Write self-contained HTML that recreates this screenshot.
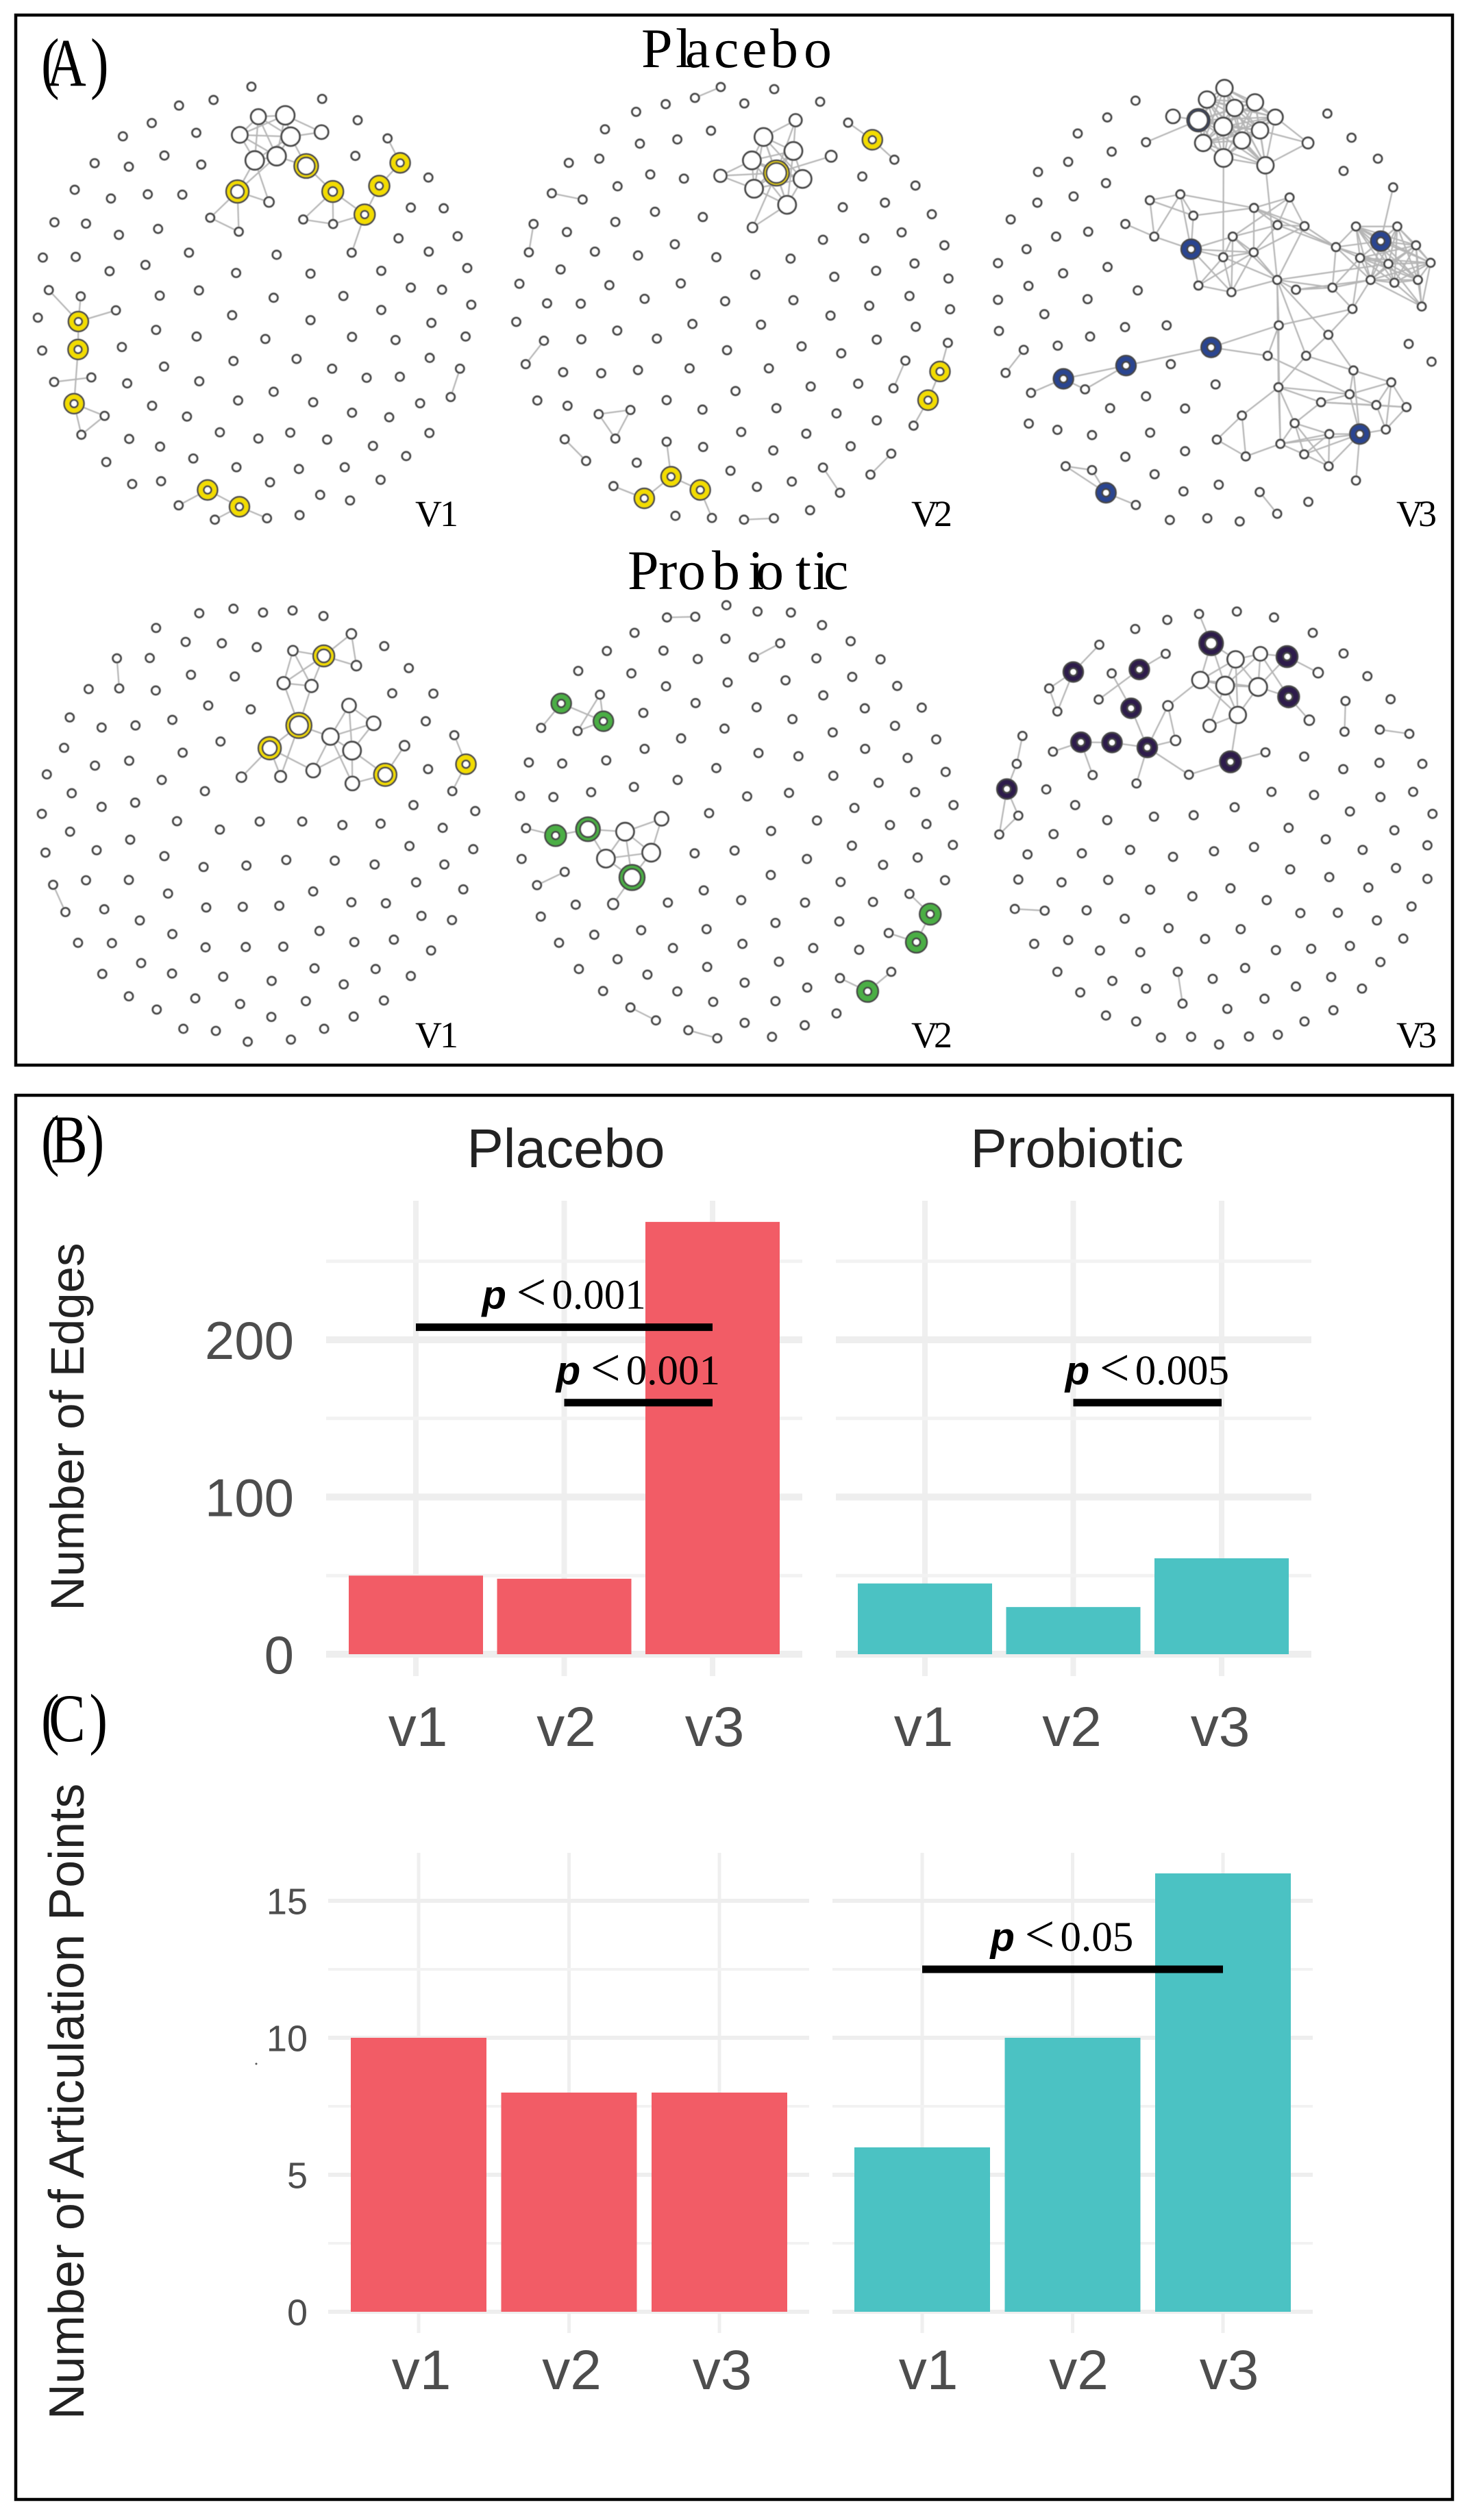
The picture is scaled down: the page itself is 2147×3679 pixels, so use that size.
<!DOCTYPE html>
<html lang="en">
<head>
<meta charset="utf-8">
<title>Network topology by visit, placebo and probiotic</title>
<style>
html,body{margin:0;padding:0;background:#fff;width:2147px;height:3679px;overflow:hidden}
svg{display:block}
.serif{font-family:"Liberation Serif",serif;fill:#000}
.sans{font-family:"Liberation Sans",sans-serif}
</style>
</head>
<body>
<svg id="figure" xmlns="http://www.w3.org/2000/svg" width="2147" height="3679" viewBox="0 0 2147 3679">
<defs><filter id="soft" x="-2%" y="-2%" width="104%" height="104%"><feGaussianBlur stdDeviation="0.5"/></filter></defs>
<rect width="2147" height="3679" fill="#fff"/>
<rect x="23" y="22" width="2097" height="1533" fill="none" stroke="#000" stroke-width="4.5"/>
<rect x="23" y="1599" width="2097" height="2050" fill="none" stroke="#000" stroke-width="4.5"/>
<g id="networks" filter="url(#soft)"></g>
<g id="bars"></g>
<g transform="translate(60,125) scale(.8,1)"><text class="serif" font-size="100" x="0 10 90">(A)</text></g>
<g transform="translate(60,1697) scale(.8,1)"><text class="serif" font-size="100" x="0 18 82">(B)</text></g>
<g transform="translate(60,2542) scale(.8,1)"><text class="serif" font-size="100" x="0 14 88">(C)</text></g>
<text class="serif" font-size="82" y="98" x="936 986 1000 1042 1083 1124 1173">Placebo</text>
<text class="serif" font-size="82" y="860" x="916 961 989 1039 1092 1103 1161 1186 1202">Probiotic</text>
<text class="serif" font-size="54" y="768" x="606 642">V1</text>
<text class="serif" font-size="54" y="768" x="1330 1363">V2</text>
<text class="serif" font-size="54" y="768" x="2038 2070">V3</text>
<text class="serif" font-size="54" y="1529" x="606 642">V1</text>
<text class="serif" font-size="54" y="1529" x="1330 1363">V2</text>
<text class="serif" font-size="54" y="1529" x="2038 2070">V3</text>
<text class="sans" font-size="80" fill="#222" text-anchor="middle" x="826" y="1704">Placebo</text>
<text class="sans" font-size="80" fill="#222" text-anchor="middle" x="1572" y="1704">Probiotic</text>
<text class="sans" font-size="69" fill="#222" text-anchor="middle" transform="translate(122,2083) rotate(-90)">Number of Edges</text>
<text class="sans" font-size="72" fill="#222" text-anchor="middle" transform="translate(122,3068) rotate(-90)">Number of Articulation Points</text>
<circle cx="374" cy="3013" r="1.5" fill="#555"/>
</svg>
<script>
// ---------- Bar chart data ----------
const visits = ['v1', 'v2', 'v3'];
const edgesPlacebo = [50, 48, 275];
const edgesProbiotic = [45, 30, 61];
const articulationPlacebo = [10, 8, 8];
const articulationProbiotic = [6, 10, 16];
const edgeMajorTicks = [0, 100, 200];
const edgeMinorTicks = [50, 150, 250];
const articulationMajorTicks = [0, 5, 10, 15];
const articulationMinorTicks = [2.5, 7.5, 12.5];
const edgeBracketLevels = [208, 160, 160];
const edgeBracketLabels = ['0.001', '0.001', '0.005'];
const articulationBracketLevels = [12.5];
const articulationBracketLabels = ['0.05'];

// ---------- Network layouts: node = [layoutX, layoutY, radius, innerRadius] in layout units ----------
// Placebo V1
const a1Linked = [[778,334,12],[859,330,14.5],[722,386,12.5],[875,391,14.5],[968,378,11],[767,459,14.5],[833,447,14.5],[922,475,18,13],[715,548,17,10],[1002,548,16,7],[1205,466,15,6],[1142,532,15.5,6],[1098,614,15.5,6],[236,920,15,6],[235,1000,15,6],[223,1155,15,6],[625,1402,15,6],[721,1450,15,6],[1167,396],[810,578,8],[633,623],[719,663],[913,628],[1003,641],[1059,723],[147,830],[243,848],[349,888],[275,1080],[163,1093],[315,1190],[245,1244],[538,1446],[647,1487],[804,1483],[1385,1055],[1357,1136]];
const a1Edges = [[0,1],[0,2],[0,3],[0,5],[0,6],[1,2],[1,3],[1,4],[1,6],[2,3],[2,5],[2,6],[3,4],[3,5],[3,6],[5,6],[3,7],[6,7],[5,8],[5,19],[6,8],[7,9],[8,19],[8,20],[8,21],[20,21],[9,22],[9,23],[9,12],[22,23],[23,12],[12,24],[12,11],[11,10],[10,18],[13,25],[13,26],[13,27],[13,14],[14,15],[28,29],[15,30],[15,31],[30,31],[16,32],[16,17],[17,33],[17,34],[35,36]];
const a1Cliques = [];
const a1Isolated = [[757,248],[643,286],[539,302],[970,283],[457,352],[591,380],[370,390],[1077,344],[285,467],[388,477],[495,445],[606,471],[1070,446],[1290,508],[225,543],[334,568],[445,556],[549,557],[1237,594],[1336,596],[164,636],[259,640],[358,672],[476,655],[1200,682],[1378,676],[129,737],[228,735],[330,776],[438,758],[569,723],[833,729],[711,781],[935,783],[1148,775],[1291,720],[1407,767],[481,846],[599,831],[824,852],[1034,847],[1237,823],[1331,829],[1419,872],[114,909],[699,902],[935,916],[1148,887],[1299,924],[470,944],[592,963],[799,970],[1060,964],[1191,973],[1402,963],[127,1003],[367,993],[703,1033],[893,1027],[1000,1055],[1104,1081],[1204,1078],[1294,1024],[494,1049],[600,1091],[383,1097],[824,1121],[717,1146],[943,1151],[1060,1181],[1172,1194],[1265,1154],[458,1161],[563,1192],[662,1237],[778,1255],[874,1238],[985,1258],[1123,1276],[1293,1239],[389,1256],[482,1278],[320,1322],[582,1312],[712,1337],[900,1342],[1038,1337],[1223,1305],[398,1385],[485,1377],[813,1380],[964,1416],[1146,1373],[1054,1432],[902,1474]];
// Placebo V2
const a2Linked = [[961,344,10],[859,392,14],[954,432,14],[822,459,14],[1074,447,9],[722,503,10],[829,540,14],[983,512,14],[934,586,14],[824,651,8],[900,495,19,15],[1205,400,15,6],[1128,351],[1275,457],[1420,1063,15,6],[1382,1145,15,6],[1445,981],[1336,1218],[565,1364,15,6],[480,1426,15,6],[658,1402,15,6],[551,1264],[382,1391],[695,1482],[723,249],[641,280],[186,553],[284,571],[128,641],[113,722],[161,975],[103,1042],[335,1185],[436,1173],[388,1255],[227,1257],[295,1319],[1310,1032],[1272,1111],[1265,1298],[1199,1358],[1048,1338],[1102,1410],[797,1487],[892,1483]];
const a2Edges = [[10,0],[10,4],[10,5],[10,9],[3,5],[6,5],[0,2],[0,1],[8,9],[12,11],[11,13],[16,14],[14,15],[15,17],[21,18],[18,19],[18,20],[22,19],[20,23],[24,25],[26,27],[28,29],[30,31],[32,33],[33,34],[32,34],[35,36],[37,38],[39,40],[41,42],[43,44]];
const a2Cliques = [[1,2,3,6,7,8,10]];
const a2Isolated = [[893,255],[798,296],[1039,291],[548,298],[454,320],[355,370],[692,374],[585,399],[466,411],[337,454],[240,466],[499,499],[606,511],[395,533],[1173,505],[1342,531],[1111,593],[1245,580],[1394,613],[514,606],[666,621],[388,635],[234,664],[1298,665],[1179,682],[1048,686],[1434,702],[323,720],[460,731],[577,699],[709,736],[945,740],[1339,754],[1217,775],[1084,792],[1447,797],[833,786],[214,771],[83,812],[369,816],[596,811],[171,868],[278,869],[481,855],[737,862],[954,859],[1323,847],[1195,875],[1452,885],[1072,903],[73,921],[633,927],[851,929],[1343,935],[394,946],[280,971],[520,969],[1219,972],[980,991],[743,1002],[1106,1011],[222,1065],[343,1068],[460,1059],[624,1054],[876,1054],[1009,1106],[1160,1098],[770,1119],[140,1146],[236,1161],[551,1145],[665,1172],[900,1168],[1091,1183],[1219,1203],[788,1236],[995,1241],[667,1279],[890,1289],[1136,1277],[456,1324],[754,1347],[838,1393],[949,1378],[579,1476],[1007,1460]];
// Placebo V3
const a3Linked = [[792,252,13],[737,285,13],[888,293,13],[824,309,13],[630,333,11],[710,344,17,14],[788,362,14],[952,335,12],[904,373,13],[725,409,13],[847,402,13],[789,452,14],[921,473,13],[1055,409,9],[545,407],[557,573],[653,556],[694,617],[571,677],[480,641],[687,713,15,6],[788,736],[818,677],[884,722],[885,595],[997,565],[959,644],[1044,647],[710,817],[814,836],[958,801],[1017,829],[1143,707],[1206,648],[1284,690,15,6],[1336,648],[1395,702],[1219,738],[1308,755],[1441,752],[1252,801],[1327,809],[1401,801],[1413,877],[1323,536],[1132,823],[1195,884],[963,931],[1119,958],[750,994,15,6],[482,1046,15,6],[285,1084,15,6],[353,1114],[183,1124],[928,1018],[1049,1018],[1198,1060],[1317,1094],[962,1108],[1186,1128],[1096,1151],[1270,1159],[1365,1165],[847,1189],[1013,1211],[1218,1242,15,6],[1300,1229],[1122,1242],[768,1258],[968,1270],[859,1306],[1043,1300],[1120,1334],[1206,1375],[419,1410,15,6],[292,1334],[375,1345],[513,1445],[160,1001],[103,1067],[903,1408],[958,1470]];
const a3Edges = [[4,5],[14,5],[7,13],[8,13],[12,13],[11,21],[12,30],[15,16],[15,17],[15,18],[16,17],[16,18],[18,20],[19,18],[17,20],[16,20],[16,24],[17,24],[20,21],[20,22],[20,23],[20,28],[20,29],[21,22],[21,23],[21,28],[21,29],[22,23],[22,25],[22,26],[22,29],[22,30],[23,24],[23,26],[23,27],[23,28],[23,30],[24,25],[24,26],[24,27],[25,26],[25,27],[26,27],[23,29],[28,29],[29,30],[30,31],[21,30],[27,32],[24,32],[26,32],[30,27],[30,45],[30,38],[31,40],[31,45],[32,33],[32,34],[32,37],[32,38],[32,40],[32,45],[44,34],[36,43],[40,43],[41,43],[42,43],[39,43],[38,43],[46,40],[46,37],[46,45],[45,37],[45,40],[46,47],[48,46],[47,30],[47,49],[47,54],[47,58],[30,69],[30,58],[48,55],[48,56],[48,30],[55,58],[55,56],[55,30],[54,59],[49,54],[49,50],[50,51],[50,52],[51,52],[51,53],[56,57],[56,59],[56,65],[57,59],[57,61],[57,62],[57,66],[59,60],[59,61],[59,65],[60,61],[60,62],[60,64],[60,58],[58,59],[58,63],[58,64],[58,69],[63,68],[63,70],[68,70],[70,69],[69,64],[69,67],[69,71],[69,65],[64,67],[64,71],[64,72],[71,72],[71,67],[71,65],[67,65],[67,72],[72,65],[65,73],[65,66],[66,61],[66,62],[61,62],[74,75],[74,76],[75,76],[74,77],[78,79],[80,81]];
const a3Cliques = [[0,1,2,3,5,6,7,8,9,10,11,12],[33,34,35,36,37,38,39,40,41,42]];
const a3Isolated = [[512,288],[423,336],[330,382],[1116,325],[1192,394],[1275,454],[1167,489],[437,434],[300,463],[205,492],[419,524],[317,562],[203,580],[119,628],[363,663],[262,677],[169,713],[79,753],[424,764],[284,782],[175,818],[79,858],[519,831],[361,856],[225,899],[82,947],[479,936],[610,931],[369,963],[267,989],[623,1042],[1372,984],[1444,1035],[764,1100],[545,1134],[432,1168],[668,1169],[176,1212],[266,1230],[375,1245],[558,1238],[668,1291],[480,1307],[572,1357],[663,1406],[774,1387],[1056,1436],[620,1488],[738,1483],[840,1492]];
// Probiotic V1
const b1Linked = [[975,348,16,10],[882,333,8],[1058,285,8],[1073,376,8],[854,426,10],[938,434,10],[900,547,19,14],[812,612,17,11],[1051,490,11],[1125,541,11],[995,579,13],[1060,619,14],[943,676,11],[1061,713,11],[1160,688,17,11],[1218,605,8],[845,693,9],[727,695,8],[1403,658,15,6],[1368,575],[1362,735],[352,355],[359,441],[160,1003],[197,1081]];
const b1Edges = [[0,1],[0,2],[0,3],[2,3],[0,4],[0,5],[1,4],[1,5],[4,5],[4,6],[5,6],[6,7],[6,10],[6,16],[7,16],[7,17],[7,12],[10,8],[10,9],[10,11],[10,12],[8,9],[8,11],[9,11],[11,12],[11,13],[10,13],[11,14],[13,14],[14,15],[18,19],[18,20],[21,22],[23,24]];
const b1Cliques = [];
const b1Isolated = [[600,226],[703,213],[792,224],[881,218],[974,234],[470,268],[559,308],[668,312],[773,323],[1157,320],[451,354],[1231,383],[575,402],[707,407],[267,443],[469,447],[1181,455],[1305,456],[627,490],[755,501],[210,524],[306,553],[408,547],[519,531],[1282,535],[664,593],[193,611],[550,625],[389,648],[286,662],[1289,672],[141,687],[487,703],[617,735],[216,741],[306,780],[407,768],[1245,775],[1431,792],[126,800],[533,821],[662,845],[782,822],[910,822],[1031,832],[1146,828],[1333,840],[211,851],[392,874],[291,904],[137,911],[495,921],[613,952],[742,948],[862,932],[1008,934],[1128,945],[1233,892],[1425,901],[1338,945],[259,990],[388,989],[506,1028],[943,1022],[1253,996],[1395,1016],[314,1073],[621,1068],[731,1066],[841,1063],[1058,1053],[1162,1056],[1269,1092],[1361,1104],[421,1105],[519,1144],[962,1135],[235,1169],[337,1170],[619,1182],[740,1181],[853,1180],[1067,1167],[1186,1160],[1298,1191],[425,1227],[308,1258],[518,1257],[672,1266],[818,1278],[947,1242],[1131,1244],[1237,1264],[1035,1288],[388,1322],[588,1328],[723,1344],[921,1336],[1156,1334],[472,1360],[817,1381],[1065,1380],[552,1415],[650,1421],[746,1452],[876,1446],[976,1415]];
// Probiotic V2
const b2Linked = [[216,484,15,6],[350,535,15,6],[152,554],[339,459],[268,563],[198,862,16,6],[301,844,18,12],[104,841],[419,851,14],[535,814,11],[502,911,14],[358,928,14],[441,982,19,13],[381,1058,8.5],[227,966],[139,1004],[552,238],[642,236],[912,312],[828,352],[1389,1087,16,6],[1345,1167,16,6],[1323,1029],[1257,1141],[1190,1308,16,6],[1102,1270],[1265,1252],[436,1354],[517,1391],[620,1419],[712,1442]];
const b2Edges = [[0,2],[0,1],[1,3],[3,4],[1,4],[5,7],[5,6],[6,8],[6,11],[8,9],[8,10],[8,11],[8,12],[9,10],[10,11],[10,12],[11,12],[12,13],[14,15],[16,17],[18,19],[20,21],[20,22],[21,23],[24,25],[24,26],[27,28],[29,30]];
const b2Cliques = [];
const b2Isolated = [[741,203],[840,221],[946,224],[449,282],[1045,260],[738,299],[1136,306],[361,334],[541,333],[650,357],[1027,355],[1231,358],[270,391],[439,398],[549,435],[745,424],[929,418],[1141,408],[1284,434],[643,483],[837,495],[1049,461],[1181,498],[1362,496],[477,511],[951,529],[735,556],[597,584],[1079,567],[1277,548],[1408,587],[481,614],[843,626],[970,635],[1182,614],[1317,640],[113,653],[219,656],[359,647],[709,669],[586,703],[1081,691],[1225,711],[1438,680],[85,749],[191,752],[311,738],[447,723],[807,750],[940,740],[1341,738],[1463,775],[686,798],[1148,783],[1029,819],[1261,832],[1377,829],[883,849],[90,929],[640,913],[767,905],[997,929],[1140,891],[1349,925],[1461,889],[1239,946],[882,975],[1104,995],[1436,990],[669,1019],[262,1060],[555,1054],[788,1047],[991,1054],[1207,1052],[151,1094],[470,1133],[678,1130],[897,1112],[1100,1108],[321,1146],[209,1169],[571,1184],[792,1172],[1017,1184],[1163,1189],[395,1216],[908,1223],[272,1244],[680,1238],[490,1260],[799,1283],[998,1297],[349,1307],[585,1308],[699,1338],[897,1336],[1091,1371],[799,1398],[990,1405],[886,1438]];
// Probiotic V3
const b3Linked = [[750,312,18,9],[712,228],[827,358,13],[905,342,11],[989,350,16,6],[1087,396,8],[716,417,13],[794,433,14],[898,437,14],[994,465,16,6],[1059,532,8],[834,517,13],[745,548,10],[614,491,8],[638,590,8],[549,610,15,6],[438,596,15,6],[340,595,15,6],[252,622],[377,689],[515,713],[680,688],[811,651,16,6],[921,624],[524,387,15,6],[607,342],[396,473],[437,398],[498,498,15,6],[316,394,15,6],[398,316],[240,441],[266,507],[156,577],[138,657],[107,729,15,6],[143,805],[83,859],[1173,477],[1170,565],[1281,559],[1374,571],[132,1072],[226,1077],[645,1252],[660,1343]];
const b3Edges = [[0,1],[0,2],[0,6],[0,7],[2,3],[2,6],[2,7],[2,8],[2,11],[3,4],[3,8],[3,9],[3,7],[4,5],[4,8],[6,7],[6,8],[6,11],[7,8],[7,11],[7,12],[8,9],[8,11],[9,10],[11,12],[11,22],[6,13],[13,14],[13,15],[14,15],[15,16],[16,17],[17,18],[17,19],[15,20],[15,21],[21,22],[22,23],[15,28],[28,27],[24,25],[24,26],[29,30],[29,31],[29,32],[31,32],[33,34],[34,35],[35,36],[35,37],[36,37],[38,39],[40,41],[42,43],[44,45]];
const b3Cliques = [];
const b3Isolated = [[831,221],[948,238],[612,245],[511,271],[1070,282],[1167,341],[1242,406],[1315,472],[1043,636],[1166,672],[1280,654],[1415,657],[231,730],[940,737],[1074,746],[1283,752],[1386,737],[322,775],[824,781],[695,804],[570,808],[423,818],[1187,793],[1447,800],[254,858],[994,840],[1327,847],[1111,873],[172,916],[343,913],[495,903],[630,923],[759,907],[885,895],[1227,903],[1431,890],[999,959],[1332,955],[143,988],[279,996],[426,989],[558,1017],[1122,981],[1245,1011],[1431,986],[691,1036],[811,1013],[925,1047],[358,1076],[478,1100],[1031,1084],[1149,1083],[1272,1105],[1381,1065],[616,1127],[843,1130],[731,1158],[193,1172],[300,1161],[400,1191],[527,1196],[954,1190],[1065,1186],[1187,1178],[1355,1157],[857,1241],[266,1252],[439,1278],[755,1272],[1128,1267],[1283,1224],[338,1311],[545,1300],[1017,1294],[1225,1300],[918,1329],[801,1358],[1135,1362],[419,1377],[514,1394],[1044,1394],[592,1440],[687,1438],[775,1460],[869,1437],[960,1432]];

// ---------- Drawing ----------
const NS = 'http://www.w3.org/2000/svg';
function make(tag, attrs, parent) {
  const e = document.createElementNS(NS, tag);
  for (const k in attrs) e.setAttribute(k, attrs[k]);
  parent.appendChild(e);
  return e;
}

function drawNode(parent, n, color) {
  const x = n.px, y = n.py, R = n.R, rIn = n.rIn;
  if (rIn) {
    const ring = make('circle', {cx: x, cy: y, r: R - 0.5, fill: color, stroke: '#444', 'stroke-width': 2.4}, parent);
    
    
    const hole = make('circle', {cx: x, cy: y, r: rIn - 0.5, fill: '#fff', stroke: '#444', 'stroke-width': 2.6}, parent);
    
    
  } else {
    const dot = make('circle', {cx: x, cy: y, r: R - 1, fill: '#fff', stroke: '#444', 'stroke-width': 2.8}, parent);
    
    
  }
}

function drawNetwork(name, linked, edges, cliques, isolated, frame, color) {
  const sx = v => frame.x0 + v * frame.kx;
  const sy = v => frame.y0 + v * frame.ky;
  const host = document.getElementById('networks');
  const g = make('g', {}, host);
  
  
  const toNode = a => ({px: sx(a[0]), py: sy(a[1]), R: a[2] || 7, rIn: a[3] || 0});
  const nodes = linked.map(toNode);
  const pairs = edges.slice();
  cliques.forEach(c => { for (let i = 0; i < c.length; i++) for (let j = i + 1; j < c.length; j++) pairs.push([c[i], c[j]]); });
  pairs.forEach(p => {
    const a = nodes[p[0]], b = nodes[p[1]];
    const line = make('line', {x1: a.px, y1: a.py, x2: b.px, y2: b.py, stroke: '#b5b5b5', 'stroke-width': 2.2}, g);
    
    
  });
  isolated.map(toNode).forEach(n => drawNode(g, n, color));
  nodes.forEach(n => drawNode(g, n, color));
}

const YELLOW = '#f2dc05', BLUE = '#2b4590', GREEN = '#4cae44', PURPLE = '#2d1a4c';
drawNetwork('placebo-v1-network', a1Linked, a1Edges, a1Cliques, a1Isolated, {x0: 0, y0: 0, kx: 1 / 2.063, ky: 1 / 1.96}, YELLOW);
drawNetwork('placebo-v2-network', a2Linked, a2Edges, a2Cliques, a2Isolated, {x0: 720, y0: 0, kx: 1 / 2.178, ky: 1 / 1.96}, YELLOW);
drawNetwork('placebo-v3-network', a3Linked, a3Edges, a3Cliques, a3Isolated, {x0: 1420, y0: 0, kx: 1 / 2.157, ky: 1 / 1.96}, BLUE);
drawNetwork('probiotic-v1-network', b1Linked, b1Edges, b1Cliques, b1Isolated, {x0: 0, y0: 780, kx: 1 / 2.063, ky: 1 / 1.96}, YELLOW);
drawNetwork('probiotic-v2-network', b2Linked, b2Edges, b2Cliques, b2Isolated, {x0: 720, y0: 780, kx: 1 / 2.178, ky: 1 / 1.96}, GREEN);
drawNetwork('probiotic-v3-network', b3Linked, b3Edges, b3Cliques, b3Isolated, {x0: 1420, y0: 780, kx: 1 / 2.157, ky: 1 / 1.96}, PURPLE);

function drawFacet(opts) {
  const host = document.getElementById('bars');
  const g = make('g', {}, host);
  
  
  const y = v => opts.y0 - v * opts.yUnit;
  const x = i => opts.firstX + i * opts.stepX;
  // vertical grid
  visits.forEach((label, i) => {
    const v = make('line', {x1: x(i), x2: x(i), y1: opts.gridTop, y2: opts.gridBottom, stroke: '#efefef', 'stroke-width': opts.vWidth}, g);
    
    
  });
  opts.minor.forEach(t => {
    const l = make('line', {x1: opts.left, x2: opts.right, y1: y(t), y2: y(t), stroke: '#f2f2f2', 'stroke-width': opts.minorWidth}, g);
    
    
  });
  opts.major.forEach(t => {
    const l = make('line', {x1: opts.left, x2: opts.right, y1: y(t), y2: y(t), stroke: '#eeeeee', 'stroke-width': opts.majorWidth}, g);
    
    
    if (opts.showTicks) {
      const tx = make('text', {x: opts.tickX, y: y(t) + opts.tickSize * 0.36, 'text-anchor': 'end', 'font-size': opts.tickSize, fill: '#4d4d4d', class: 'sans'}, g);
      
      
      tx.textContent = String(t);
    }
  });
  // bars
  opts.values.forEach((val, i) => {
    const b = make('rect', {x: x(i) - opts.barWidth / 2, y: y(val), width: opts.barWidth, height: y(0) - y(val), fill: opts.color}, g);
    
    
  });
  // x labels
  visits.forEach((label, i) => {
    const t = make('text', {x: x(i) + opts.labelDx, y: opts.labelY, 'text-anchor': 'middle', 'font-size': 82, fill: '#4d4d4d', class: 'sans'}, g);
    
    
    t.textContent = label;
  });
  return {g, x, y};
}

function drawBracket(facet, fromIdx, toIdx, level, label) {
  const x1 = facet.x(fromIdx), x2 = facet.x(toIdx), yy = facet.y(level), mid = (x1 + x2) / 2;
  const line = make('line', {x1: x1, x2: x2, y1: yy, y2: yy, stroke: '#000', 'stroke-width': 11}, facet.g);
  
  
  const base = yy - 27;
  const p = make('text', {x: mid - 120, y: base, 'font-size': 58, 'font-weight': 'bold', 'font-style': 'italic', fill: '#000', class: 'sans'}, facet.g);
  
  
  p.textContent = 'p';
  const lt = make('text', {x: mid - 70, y: base + 2, 'font-size': 78, class: 'serif'}, facet.g);
  
  
  lt.textContent = '<';
  const val = make('text', {x: mid - 18, y: base, 'font-size': 61, class: 'serif'}, facet.g);
  
  
  val.textContent = label;
}

const edgeShared = {y0: 2415, yUnit: 2.295, gridTop: 1753, gridBottom: 2447, vWidth: 8, minorWidth: 5, majorWidth: 10, labelY: 2549, major: edgeMajorTicks, minor: edgeMinorTicks, tickSize: 78, barWidth: 196, stepX: 216.5};
const edgeLeft = drawFacet(Object.assign({}, edgeShared, {name: 'edges-placebo-facet', firstX: 607, left: 476, right: 1171, values: edgesPlacebo, color: '#f25c66', showTicks: true, tickX: 429, labelDx: 3}));
const edgeRight = drawFacet(Object.assign({}, edgeShared, {name: 'edges-probiotic-facet', firstX: 1350, left: 1220, right: 1914, values: edgesProbiotic, color: '#4bc2c3', showTicks: false, labelDx: -2}));
drawBracket(edgeLeft, 0, 2, edgeBracketLevels[0], edgeBracketLabels[0]);
drawBracket(edgeLeft, 1, 2, edgeBracketLevels[1], edgeBracketLabels[1]);
drawBracket(edgeRight, 1, 2, edgeBracketLevels[2], edgeBracketLabels[2]);

const artShared = {y0: 3375, yUnit: 40, gridTop: 2705, gridBottom: 3406, vWidth: 5, minorWidth: 4, majorWidth: 6, labelY: 3488, major: articulationMajorTicks, minor: articulationMinorTicks, tickSize: 54, barWidth: 198, stepX: 219.5};
const artLeft = drawFacet(Object.assign({}, artShared, {name: 'articulation-placebo-facet', firstX: 611, left: 479, right: 1181, values: articulationPlacebo, color: '#f25c66', showTicks: true, tickX: 449, labelDx: 4}));
const artRight = drawFacet(Object.assign({}, artShared, {name: 'articulation-probiotic-facet', firstX: 1346, left: 1215, right: 1916, values: articulationProbiotic, color: '#4bc2c3', showTicks: false, labelDx: 9}));
drawBracket(artRight, 0, 2, articulationBracketLevels[0], articulationBracketLabels[0]);
</script>
</body>
</html>
